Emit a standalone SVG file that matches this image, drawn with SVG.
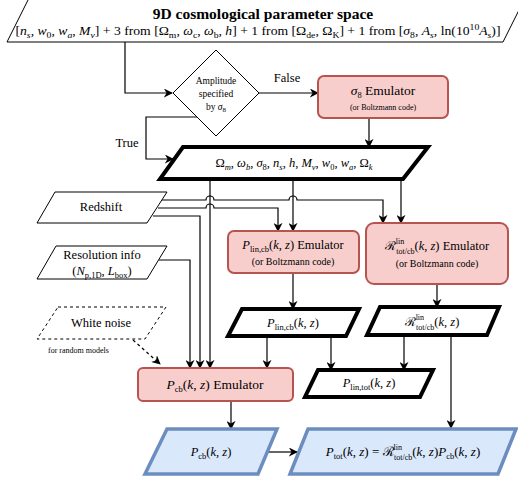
<svg xmlns="http://www.w3.org/2000/svg" width="518" height="481" viewBox="0 0 518 481" font-family="'Liberation Serif', 'Times New Roman', 'DejaVu Serif', serif">
<style>
text { font-family: "Liberation Serif", "Times New Roman", "DejaVu Serif", serif; fill: #000; }
.m { font-size: 12.5px; text-anchor: middle; }
.i { font-style: italic; }
.s { font-size: 8.5px; baseline-shift: -3px; }
.p { font-size: 8.5px; baseline-shift: 5px; }
.rp { font-size: 8px; baseline-shift: 6px; }
.rs { font-size: 8px; baseline-shift: -3.5px; }
.small { font-size: 10px; text-anchor: middle; }
.plain { fill: #fff; stroke: #000; stroke-width: 1; }
.thick { fill: #fff; stroke: #000; stroke-width: 4; stroke-linejoin: miter; }
.emu { fill: #f8cecc; stroke: #b85450; stroke-width: 2; }
.out { fill: #dae8fc; stroke: #6c8ebf; stroke-width: 3.5; }
.c { fill: none; stroke: #000; stroke-width: 1.2; marker-end: url(#arr); }
</style>
<defs>
<marker id="arr" viewBox="0 0 10 10" refX="9" refY="5" markerWidth="9" markerHeight="9" markerUnits="userSpaceOnUse" orient="auto">
<path d="M0,0 L10,5 L0,10 L3,5 z" fill="#000"/>
</marker>
</defs>

<g id="connectors">
<path class="c" d="M125,42 V93 H172"/>
<path class="c" d="M259,93 H318"/>
<path class="c" d="M197,117 H146 V159 H173"/>
<path class="c" d="M369,118 V147"/>
<path class="c" d="M210,179 V368"/>
<path class="c" d="M293,179 V231"/>
<path class="c" d="M401,179 V223"/>
<path class="c" d="M162,200 H206 A4,4 0 0 1 214,200 H289 A4,4 0 0 1 297,200 H383 V223"/>
<path class="c" d="M158,208 H206 A4,4 0 0 1 214,208 H278 V231"/>
<path class="c" d="M153,216 H200 V368"/>
<path class="c" d="M159,260 H190 V368"/>
<path class="c" d="M133,340 L160,364" stroke-dasharray="3,3"/>
<path class="c" d="M293,273 V309"/>
<path class="c" d="M437,284 V307"/>
<path class="c" d="M267,336 V368"/>
<path class="c" d="M331,336 V370"/>
<path class="c" d="M404,335 V370"/>
<path class="c" d="M451,335 V428"/>
<path class="c" d="M231,401 V429"/>
<path class="c" d="M266,452 H297"/>
</g>

<g id="param_space">
<polygon class="plain" points="29,-2 525,-2 503,42 7,42"/>
<text x="263" y="19" font-size="15.5" font-weight="bold" text-anchor="middle">9D cosmological parameter space</text>
<text x="258" y="35" font-size="12" text-anchor="middle" textLength="485" lengthAdjust="spacingAndGlyphs">[<tspan class="i">n</tspan><tspan class="s i">s</tspan>, <tspan class="i">w</tspan><tspan class="s">0</tspan>, <tspan class="i">w</tspan><tspan class="s i">a</tspan>, <tspan class="i">M</tspan><tspan class="s i">ν</tspan>] + 3 from [Ω<tspan class="s">m</tspan>, <tspan class="i">ω</tspan><tspan class="s">c</tspan>, <tspan class="i">ω</tspan><tspan class="s">b</tspan>, <tspan class="i">h</tspan>] + 1 from [Ω<tspan class="s">de</tspan>, Ω<tspan class="s">K</tspan>] + 1 from [<tspan class="i">σ</tspan><tspan class="s">8</tspan>, <tspan class="i">A</tspan><tspan class="s i">s</tspan>, ln(10<tspan class="p">10</tspan><tspan class="i">A</tspan><tspan class="s i">s</tspan>)]</text>
</g>

<g id="amplitude_decision">
<polygon class="plain" points="216,50 259,93 216,136 173,93"/>
<text x="216" y="84" font-size="9.5" text-anchor="middle">Amplitude</text>
<text x="216" y="97" font-size="9.5" text-anchor="middle">specified</text>
<text x="216" y="110" font-size="9.5" text-anchor="middle">by <tspan class="i">σ</tspan><tspan font-size="7" baseline-shift="-2">8</tspan></text>
</g>

<g id="label_false"><text class="m" x="287" y="82">False</text></g>
<g id="label_true"><text class="m" x="127" y="147">True</text></g>

<g id="sigma8_emulator">
<rect class="emu" x="318" y="76" width="130" height="42" rx="6"/>
<text x="383" y="95" font-size="13.5" text-anchor="middle"><tspan class="i">σ</tspan><tspan class="s">8</tspan> Emulator</text>
<text x="383" y="110" font-size="8" text-anchor="middle">(or Boltzmann code)</text>
</g>

<g id="parameters">
<polygon class="thick" points="183,147 428,147 403,179 160,179"/>
<text class="m" x="294" y="167">Ω<tspan class="s i">m</tspan>, <tspan class="i">ω</tspan><tspan class="s i">b</tspan>, <tspan class="i">σ</tspan><tspan class="s">8</tspan>, <tspan class="i">n</tspan><tspan class="s i">s</tspan>, <tspan class="i">h</tspan>, <tspan class="i">M</tspan><tspan class="s i">ν</tspan>, <tspan class="i">w</tspan><tspan class="s">0</tspan>, <tspan class="i">w</tspan><tspan class="s i">a</tspan>, Ω<tspan class="s i">k</tspan></text>
</g>

<g id="redshift">
<polygon class="plain" points="55,192 167,192 147,223 37,223"/>
<text class="m" x="101" y="211">Redshift</text>
</g>

<g id="resolution_info">
<polygon class="plain" points="56,246 167,246 147,279 37,279"/>
<text class="m" x="102" y="259">Resolution info</text>
<text class="m" x="102" y="275">(<tspan class="i">N</tspan><tspan class="s">p,1D</tspan>, <tspan class="i">L</tspan><tspan class="s">box</tspan>)</text>
</g>

<g id="white_noise">
<polygon points="58,307 166,307 145,339 37,339" fill="#fff" stroke="#000" stroke-width="1" stroke-dasharray="3,3"/>
<text class="m" x="101" y="327">White noise</text>
<text x="48" y="353" font-size="8">for random models</text>
</g>

<g id="plin_emulator">
<rect class="emu" x="228" y="231" width="131" height="42" rx="6"/>
<text class="m" x="293" y="249"><tspan class="i">P</tspan><tspan class="s">lin,cb</tspan>(<tspan class="i">k</tspan>, <tspan class="i">z</tspan>) Emulator</text>
<text class="small" x="293" y="265">(or Boltzmann code)</text>
</g>

<g id="ratio_emulator">
<rect class="emu" x="366" y="223" width="142" height="61" rx="8"/>
<text class="m" x="437" y="250">ℛ<tspan class="rp">lin</tspan><tspan class="rs" dx="-8">tot/cb</tspan>(<tspan class="i">k</tspan>, <tspan class="i">z</tspan>) Emulator</text>
<text class="small" x="437" y="267">(or Boltzmann code)</text>
</g>

<g id="plin_cb">
<polygon class="thick" points="242,309 359,309 346,336 228,336"/>
<text class="m" x="293" y="327"><tspan class="i">P</tspan><tspan class="s">lin,cb</tspan>(<tspan class="i">k</tspan>, <tspan class="i">z</tspan>)</text>
</g>

<g id="ratio_out">
<polygon class="thick" points="380,307 499,307 487,335 367,335"/>
<text class="m" x="432" y="326">ℛ<tspan class="rp">lin</tspan><tspan class="rs" dx="-8">tot/cb</tspan>(<tspan class="i">k</tspan>, <tspan class="i">z</tspan>)</text>
</g>

<g id="plin_tot">
<polygon class="thick" points="318,370 433,370 420,397 305,397"/>
<text class="m" x="369" y="387"><tspan class="i">P</tspan><tspan class="s">lin,tot</tspan>(<tspan class="i">k</tspan>, <tspan class="i">z</tspan>)</text>
</g>

<g id="pcb_emulator">
<rect class="emu" x="138" y="368" width="155" height="33" rx="5"/>
<text x="215" y="389" font-size="13.5" text-anchor="middle"><tspan class="i">P</tspan><tspan class="s">cb</tspan>(<tspan class="i">k</tspan>, <tspan class="i">z</tspan>) Emulator</text>
</g>

<g id="pcb_out">
<polygon class="out" points="167,429 277,429 258,474 145,474"/>
<text class="m" x="211" y="456"><tspan class="i">P</tspan><tspan class="s">cb</tspan>(<tspan class="i">k</tspan>, <tspan class="i">z</tspan>)</text>
</g>

<g id="ptot_out">
<polygon class="out" points="308,429 516,429 498,474 290,474"/>
<text x="403" y="456" font-size="13" text-anchor="middle"><tspan class="i">P</tspan><tspan class="s">tot</tspan>(<tspan class="i">k</tspan>, <tspan class="i">z</tspan>) = ℛ<tspan class="rp">lin</tspan><tspan class="rs" dx="-8">tot/cb</tspan>(<tspan class="i">k</tspan>, <tspan class="i">z</tspan>)<tspan class="i">P</tspan><tspan class="s">cb</tspan>(<tspan class="i">k</tspan>, <tspan class="i">z</tspan>)</text>
</g>
</svg>
